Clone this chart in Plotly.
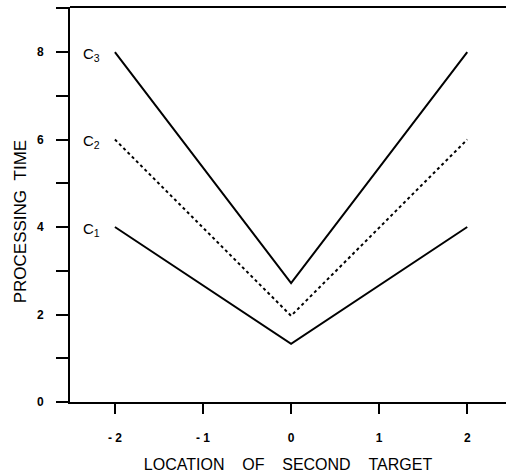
import plotly.graph_objects as go

locations = [-2, 0, 2]
c1 = [4.0, 1.33, 4.0]
c2 = [6.0, 1.97, 6.0]
c3 = [8.0, 2.72, 8.0]
series_labels = ["C<sub>1</sub>", "C<sub>2</sub>", "C<sub>3</sub>"]
x_ticks = [-2, -1, 0, 1, 2]
x_tick_text = ["- 2", "- 1", "0", "1", "2"]
y_major = [0, 2, 4, 6, 8]
gap = "&nbsp;" * 4
x_title = gap.join(["LOCATION", "OF", "SECOND", "TARGET"])
y_title = "PROCESSING&nbsp;&nbsp;TIME"

font = "Liberation Sans, Arial, sans-serif"

fig = go.Figure()
for vals, dash in [(c1, "solid"), (c2, "dot"), (c3, "solid")]:
    fig.add_trace(go.Scatter(x=locations, y=vals, mode="lines",
                             line=dict(color="black", width=2, dash=dash),
                             showlegend=False, hoverinfo="skip"))

for vals, lab in zip([c1, c2, c3], series_labels):
    fig.add_annotation(x=locations[0], y=vals[0], text=lab, showarrow=False,
                       xshift=-23, yshift=-2, font=dict(family=font, size=15, color="black"))

# y-axis title, placed slightly below the axis centre as in the reference
fig.add_annotation(text=y_title, textangle=-90, showarrow=False,
                   xref="paper", yref="paper", x=0, y=0.455,
                   xanchor="center", yanchor="middle", xshift=-50,
                   font=dict(family=font, size=17, color="black"))

fig.update_layout(
    width=506, height=476,
    margin=dict(l=70, r=0, t=7, b=74),
    plot_bgcolor="white", paper_bgcolor="white",
    xaxis=dict(range=[-2.51, 2.44], tickvals=x_ticks, ticktext=x_tick_text,
               ticks="outside", ticklen=10, tickwidth=1.5, tickcolor="black",
               ticklabelstandoff=14,
               showline=True, linecolor="black", linewidth=1.5,
               showgrid=False, zeroline=False,
               tickfont=dict(family=font, size=12, color="black", weight="bold"),
               title=dict(text=x_title,
                          font=dict(family=font, size=16, color="black"), standoff=15)),
    yaxis=dict(range=[0, 9.03], tickvals=y_major,
               ticks="outside", ticklen=12, tickwidth=1.5, tickcolor="black",
               ticklabelstandoff=10,
               minor=dict(dtick=1, ticks="outside", ticklen=12, tickwidth=1.5, tickcolor="black", showgrid=False),
               showline=True, linecolor="black", linewidth=2,
               showgrid=False, zeroline=False,
               tickfont=dict(family=font, size=12, color="black", weight="bold")),
)
fig.add_shape(type="line", xref="paper", yref="paper", x0=0, x1=1, y0=1, y1=1,
              line=dict(color="black", width=2))

fig.write_html("out.html",
               config={"displayModeBar": False},
               post_script="document.body.style.margin='0';document.body.style.overflow='hidden';")
